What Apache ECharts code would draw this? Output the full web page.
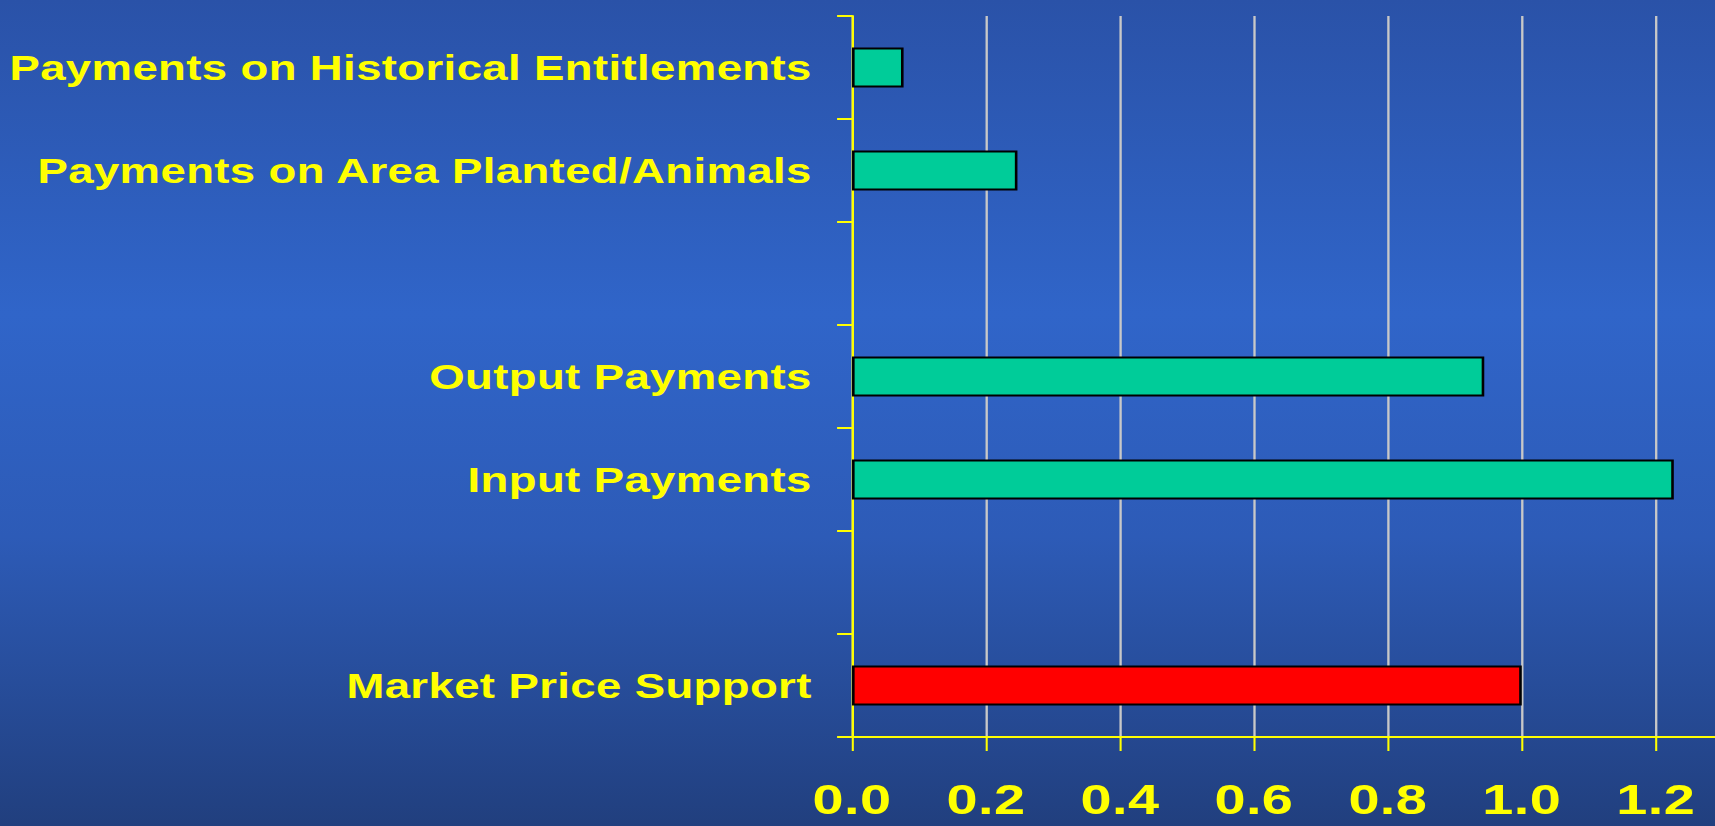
<!DOCTYPE html>
<html>
<head>
<meta charset="utf-8">
<script src="https://cdn.jsdelivr.net/npm/echarts@6/dist/echarts.min.js"></script>
<style>
    html, body { margin: 0; padding: 0; overflow: hidden; }
    body {
        width: 1715px;
        height: 826px;
        background: linear-gradient(to bottom, #2a52a8 0%, #3065c9 38%, #2d5bb7 65%, #213f7e 100%);
    }
    /* the original slide is stretched sideways, so the chart is drawn narrow and widened */
    #chart {
        width: 1320px;
        height: 826px;
        transform: scaleX(1.3);
        transform-origin: 0 0;
    }
    #chart svg text { letter-spacing: 0.3px; }
</style>
</head>
<body>
<div id="chart"></div>
<script>
    // top to bottom, blank slots are the gaps between groups
    const categories = [
        'Payments on Historical Entitlements',
        'Payments on Area Planted/Animals',
        ' ',
        'Output Payments',
        'Input Payments',
        '  ',
        'Market Price Support'
    ];
    const values = [0.077, 0.247, null, 0.944, 1.227, null, 1.0];
    const xTicks = [0, 0.2, 0.4, 0.6, 0.8, 1.0, 1.2];

    const yellow = '#ffff00';
    const labelFont = '"Liberation Sans", Arial, sans-serif';

    const chart = echarts.init(document.getElementById('chart'), null, { renderer: 'svg' });
    chart.setOption({
        backgroundColor: 'transparent',
        animation: false,
        grid: {
            left: 655.4,
            top: 16,
            right: 0,
            bottom: 89
        },
        xAxis: {
            type: 'value',
            min: 0,
            max: 1.29,
            axisLine: { show: true, lineStyle: { color: yellow, width: 2 } },
            axisTick: { show: true, length: 14, customValues: xTicks, lineStyle: { color: yellow, width: 1.6 } },
            splitLine: { show: true, lineStyle: { color: '#c8c8c8', width: 1.8 } },
            axisLabel: {
                color: yellow,
                fontFamily: labelFont,
                fontWeight: 'bold',
                fontSize: 43,
                margin: 41,
                customValues: xTicks,
                formatter: (v) => v.toFixed(1)
            }
        },
        yAxis: {
            type: 'category',
            inverse: true,
            data: categories,
            axisLine: { show: true, lineStyle: { color: yellow, width: 1.8 } },
            axisTick: { show: true, length: 11.5, lineStyle: { color: yellow, width: 2 } },
            splitLine: { show: false },
            axisLabel: {
                color: yellow,
                fontFamily: labelFont,
                fontWeight: 'bold',
                fontSize: 35,
                margin: 31
            }
        },
        series: [
            {
                type: 'bar',
                data: values,
                barWidth: 40,
                itemStyle: {
                    color: (p) => p.name === 'Market Price Support' ? '#ff0000' : '#00cc99',
                    borderColor: '#000000',
                    borderWidth: 2
                }
            }
        ]
    });
</script>
</body>
</html>
